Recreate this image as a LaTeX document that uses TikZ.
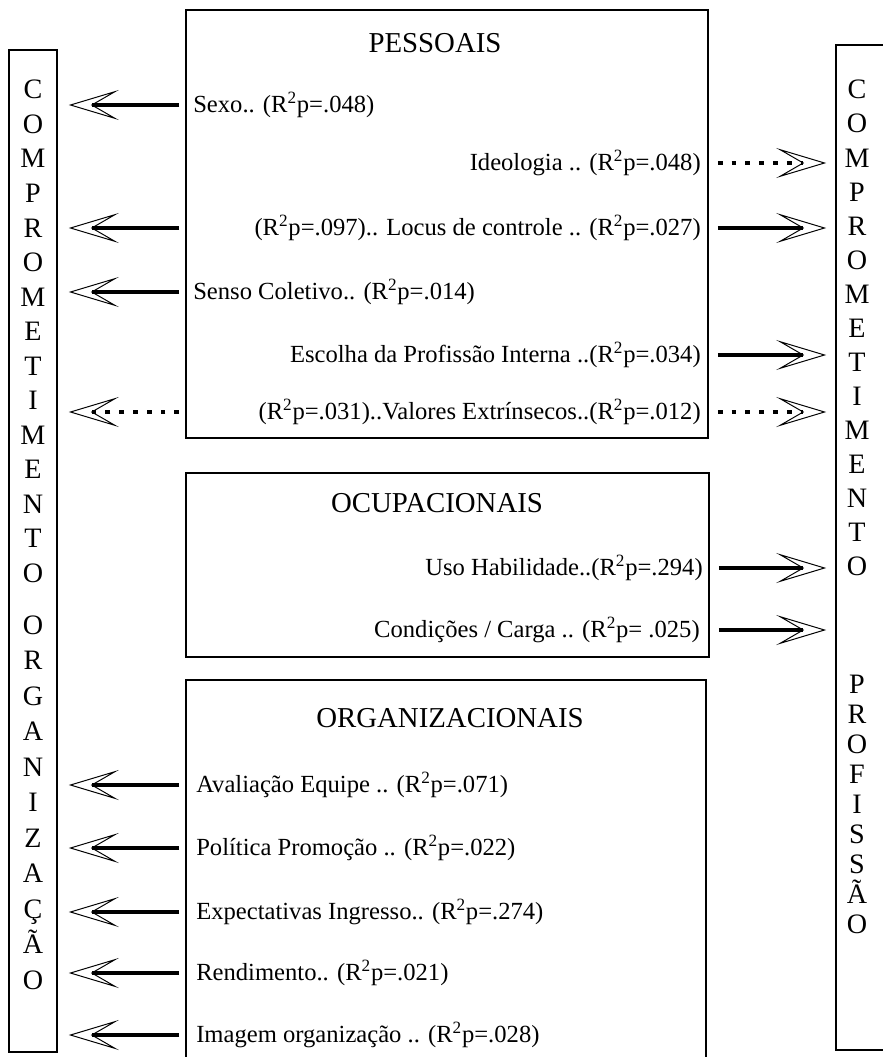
\documentclass[tikz,border=0pt]{standalone}
\usepackage{fontspec}
\setmainfont{Liberation Serif}
\usetikzlibrary{arrows.meta, positioning}

\newcommand{\Rp}[1]{(R\textsuperscript{2}p=#1)}

\begin{document}
\begin{tikzpicture}[x=0.025cm, y=-0.025cm,
    caixa/.style={draw, line width=1.1pt, inner sep=0pt},
    coluna/.style={draw, line width=1.1pt, inner sep=0pt, minimum width=1.2cm},
    titulo/.style={font=\fontsize{20.5}{24}\selectfont},
    item/.style={font=\fontsize{17.5}{20}\selectfont, inner sep=0pt},
    letra/.style={font=\fontsize{20}{22}\selectfont, inner sep=0pt, anchor=base},
    seta/.style={line width=2.8pt, -{Stealth[open, length=1.25cm, width=0.75cm, inset=0.65cm, line width=0.7pt]}},
    setapont/.style={seta, line width=3.4pt, dash pattern=on 3.4pt off 6.4pt}
]
    \useasboundingbox (0,0) rectangle (882,1057);

    % Caixas
    \node[caixa, minimum width=13.05cm, minimum height=10.7cm] (pessoais) at (447,224) {};
    \node[caixa, minimum width=13.075cm, minimum height=4.6cm] (ocupacionais) at (447.5,565) {};
    \node[caixa, minimum width=13cm, minimum height=9.75cm] (organizacionais) at (446,875) {};
    \node[coluna, minimum height=25.05cm] (orgcol) at (33,551) {};
    \node[coluna, minimum width=1.85cm, minimum height=25.125cm] (profcol) at (873,547.5) {};

    % Titulos
    \node[titulo] (tpes) at (435,43) {PESSOAIS};
    \node[titulo] (tocu) at (437,503) {OCUPACIONAIS};
    \node[titulo] (torg) at (450,718) {ORGANIZACIONAIS};

    % Variaveis
    \node[item, anchor=west] (sexo) at (193,105) {Sexo.. \Rp{.048}};
    \node[item, anchor=east] (ideologia) at (701,163) {Ideologia .. \Rp{.048}};
    \node[item, anchor=east] (locus) at (701,228) {(R\textsuperscript{2}p=.097).. Locus de controle .. \Rp{.027}};
    \node[item, anchor=west] (senso) at (193,292) {Senso Coletivo.. \Rp{.014}};
    \node[item, anchor=east] (escolha) at (701,355) {Escolha da Profissão Interna ..\Rp{.034}};
    \node[item, anchor=east] (valores) at (701,412) {\Rp{.031}..Valores Extrínsecos..\Rp{.012}};
    \node[item, anchor=east] (uso) at (703,568) {Uso Habilidade..\Rp{.294}};
    \node[item, anchor=east] (condicoes) at (700,630) {Condições / Carga .. (R\textsuperscript{2}p= .025)};
    \node[item, anchor=west] (avaliacao) at (196,785) {Avaliação Equipe .. \Rp{.071}};
    \node[item, anchor=west] (politica) at (196,848) {Política Promoção .. \Rp{.022}};
    \node[item, anchor=west] (expectativas) at (196,912) {Expectativas Ingresso.. \Rp{.274}};
    \node[item, anchor=west] (rendimento) at (196,973) {Rendimento.. \Rp{.021}};
    \node[item, anchor=west] (imagem) at (196,1035) {Imagem organização .. \Rp{.028}};

    % Colunas de letras
    \foreach \l [count=\i] in {C,O,M,P,R,O,M,E,T,I,M,E,N,T,O}
        \node[letra] (oc\i) at (33,{99+34.5*(\i-1)}) {\l};
    \foreach \l [count=\i] in {O,R,G,A,N,I,Z,A,Ç,Ã,O}
        \node[letra] (og\i) at (33,{634+35.5*(\i-1)}) {\l};
    \foreach \l [count=\i] in {C,O,M,P,R,O,M,E,T,I,M,E,N,T,O}
        \node[letra] (pc\i) at (857,{99+34*(\i-1)}) {\l};
    \foreach \l [count=\i] in {P,R,O,F,I,S,S,Ã,O}
        \node[letra] (pp\i) at (857,{693+30*(\i-1)}) {\l};

    % Setas
    \foreach \n/\c in {sexo/pessoais, locus/pessoais, senso/pessoais,
        avaliacao/organizacionais, politica/organizacionais, expectativas/organizacionais,
        rendimento/organizacionais, imagem/organizacionais}
        \draw[seta, shorten <=0.15cm, shorten >=0.275cm] (\c.west |- \n) -- (orgcol.east |- \n);
    \draw[setapont, shorten <=0.15cm, shorten >=0.275cm] (pessoais.west |- valores) -- (orgcol.east |- valores);
    \foreach \n/\c in {locus/pessoais, escolha/pessoais, uso/ocupacionais, condicoes/ocupacionais}
        \draw[seta, shorten <=0.225cm, shorten >=0.225cm] (\c.east |- \n) -- (profcol.west |- \n);
    \draw[setapont, shorten <=0.225cm, shorten >=0.225cm] (pessoais.east |- ideologia) -- (profcol.west |- ideologia);
    \draw[setapont, shorten <=0.225cm, shorten >=0.225cm] (pessoais.east |- valores) -- (profcol.west |- valores);

\end{tikzpicture}
\end{document}
